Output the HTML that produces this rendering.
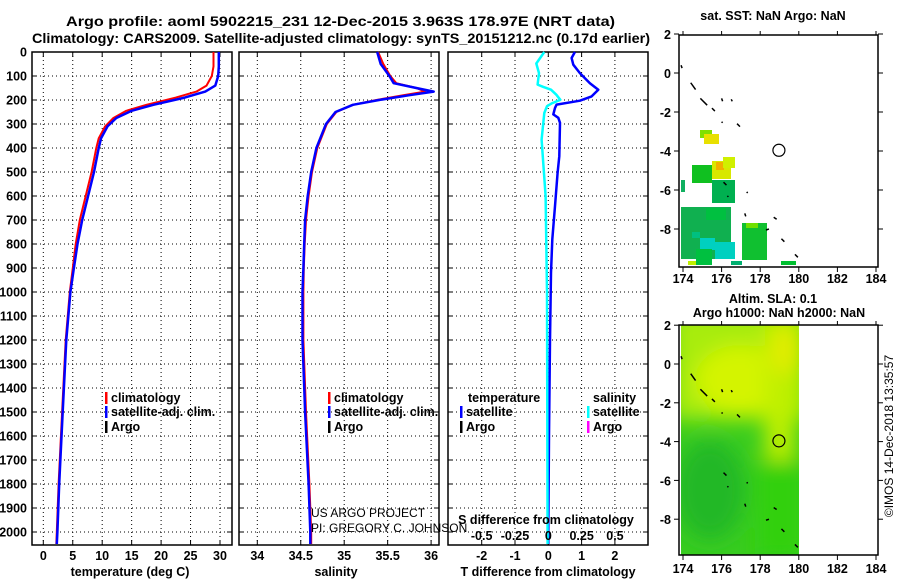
<!DOCTYPE html>
<html><head><meta charset="utf-8"><style>
html,body{margin:0;padding:0;background:#fff;width:900px;height:580px;overflow:hidden}
svg text{font-family:"Liberation Sans",Arial,sans-serif}
.b{font-weight:bold;font-size:12.5px}
.tt{font-weight:bold;font-size:14px}
</style></head><body>
<svg id="c" width="900" height="580" viewBox="0 0 900 580" xmlns="http://www.w3.org/2000/svg">
<g id="g"></g>
</svg>
<script>
// ---- data ----
const depthTicks=[0,100,200,300,400,500,600,700,800,900,1000,1100,1200,1300,1400,1500,1600,1700,1800,1900,2000];
const tempTicks=[0,5,10,15,20,25,30];
const salTicks=[34,34.5,35,35.5,36];
const salTickLabels=["34","34.5","35","35.5","36"];
const tdiffTicks=[-2,-1,0,1,2];
const sdiffTicks=[-0.5,-0.25,0,0.25,0.5];
const sdiffTickLabels=["-0.5","-0.25","0","0.25","0.5"];

const redTDepth=[0,60,100,140,165,190,220,245,275,310,360,400,500,600,700,800,900,1000,1200,1500,1800,2000,2050];
const redTemp=[28.9,28.9,28.6,27.7,26.0,22.5,17.5,14.1,11.9,10.5,9.4,9.0,8.2,7.2,6.2,5.5,5.0,4.5,3.8,3.2,2.6,2.3,2.2];
const blueTDepth=[0,60,100,140,165,190,220,245,275,310,360,400,500,600,700,800,900,1000,1200,1500,1800,2000,2050];
const blueTemp=[29.8,29.8,29.7,29.2,27.5,24.0,18.7,15.0,12.4,10.9,9.8,9.4,8.6,7.6,6.6,5.8,5.2,4.6,3.9,3.3,2.7,2.4,2.3];

const salDepth=[0,50,100,130,150,165,180,200,220,250,300,400,500,600,700,800,900,1000,1200,1500,1800,2000,2050];
const redSal=[35.39,35.45,35.53,35.60,35.83,35.93,35.68,35.37,35.10,34.91,34.80,34.69,34.63,34.59,34.56,34.545,34.535,34.53,34.53,34.56,34.60,34.62,34.62];
const blueSal=[35.38,35.42,35.52,35.57,35.83,36.03,35.75,35.40,35.10,34.90,34.79,34.68,34.62,34.58,34.55,34.54,34.53,34.52,34.52,34.55,34.59,34.61,34.61];

const tdiffDepth=[0,25,53,88,130,157,185,203,219,233,260,274,295,434,503,642,781,920,1200,1600,2000,2050];
const tdiff=[0.8,0.7,0.75,0.95,1.25,1.5,1.3,0.95,0.25,0.2,0.15,0.3,0.35,0.33,0.28,0.2,0.12,0.08,0.05,0.02,0.0,0.0];
const sdiffDepth=[0,48,88,136,145,157,178,199,213,226,254,365,600,1000,2050];
const sdiff=[-0.03,-0.09,-0.07,-0.08,-0.04,0.02,0.06,0.09,0.03,-0.01,-0.03,-0.05,-0.02,-0.01,-0.005];

const latTicks=[2,0,-2,-4,-6,-8];
const lonTicks=[174,176,178,180,182,184];

// ---- helpers ----
const NS="http://www.w3.org/2000/svg";
const G=document.getElementById('g');
function mk(tag,attrs,parent){const e=document.createElementNS(NS,tag);for(const k in attrs)e.setAttribute(k,attrs[k]);(parent||G).appendChild(e);return e;}
function txt(x,y,s,cls,anchor,parent){const t=mk('text',{x:x,y:y,'text-anchor':anchor||'start'},parent);if(cls)t.setAttribute('class',cls);t.textContent=s;return t;}

const Y0=52,PY=0.24,YB=545;
const yD=d=>Y0+d*PY;
const xT=t=>43.3+t*5.89;
const xS=s=>257.3+(s-34)*86.9;
const xTD=t=>548.3+t*33.3;
const xSD=s=>548.3+s*133.3;

// titles
let t;
t=txt(66,26,"Argo profile: aoml 5902215_231 12-Dec-2015 3.963S 178.97E (NRT data)","tt","start");
t.setAttribute('textLength','549');t.setAttribute('lengthAdjust','spacingAndGlyphs');


t=txt(32,43,"Climatology: CARS2009. Satellite-adjusted climatology: synTS_20151212.nc (0.17d earlier)","tt","start");
t.setAttribute('textLength','618');t.setAttribute('lengthAdjust','spacingAndGlyphs');



function panel(name,x0,x1,vx){
  const p=mk('g',{});
  
  
  depthTicks.forEach(d=>{mk('line',{x1:x0,x2:x1,y1:yD(d),y2:yD(d),stroke:'#000','stroke-width':1,'stroke-dasharray':'1,3'},p);
    mk('line',{x1:x0,x2:x0+5,y1:yD(d),y2:yD(d),stroke:'#000'},p);mk('line',{x1:x1-5,x2:x1,y1:yD(d),y2:yD(d),stroke:'#000'},p);});
  vx.forEach(x=>{mk('line',{x1:x,x2:x,y1:Y0,y2:YB,stroke:'#000','stroke-dasharray':'1,3'},p);
    mk('line',{x1:x,x2:x,y1:YB,y2:YB-5,stroke:'#000'},p);mk('line',{x1:x,x2:x,y1:Y0,y2:Y0+5,stroke:'#000'},p);});
  mk('rect',{x:x0,y:Y0,width:x1-x0,height:YB-Y0,fill:'none',stroke:'#000','stroke-width':1.5},p);
  return p;
}
function line(p,name,xs,ds,fx,color,w){
  const pts=xs.map((v,i)=>fx(v).toFixed(1)+','+yD(ds[i]).toFixed(1)).join(' ');
  const l=mk('polyline',{points:pts,fill:'none',stroke:color,'stroke-width':w,'stroke-linejoin':'round'},p);
  
  
}

// depth labels
const yl=mk('g',{});


depthTicks.forEach(d=>txt(27,yD(d)+4.5,String(d),'b','end',yl));

// panel 1
const p1=panel('temperature-panel',32,232,tempTicks.map(xT));
line(p1,'temp-climatology-line',redTemp,redTDepth,xT,'#f00',2);
line(p1,'temp-satellite-line',blueTemp,blueTDepth,xT,'#00f',2.5);
tempTicks.forEach(v=>txt(xT(v),560,String(v),'b','middle',p1));
t=txt(130,576,"temperature (deg C)","b","middle");



// panel 2
const p2=panel('salinity-panel',239,439,salTicks.map(xS));
line(p2,'sal-climatology-line',redSal,salDepth,xS,'#f00',2);
line(p2,'sal-satellite-line',blueSal,salDepth,xS,'#00f',2.5);
salTicks.forEach((v,i)=>txt(xS(v),560,salTickLabels[i],'b','middle',p2));
t=txt(336,576,"salinity","b","middle");



// panel 3
const p3=panel('difference-panel',448,648,tdiffTicks.map(xTD));
line(p3,'temp-diff-line',tdiff,tdiffDepth,xTD,'#00f',2.5);
line(p3,'sal-diff-line',sdiff,sdiffDepth,xSD,'#0ff',2.5);
tdiffTicks.forEach(v=>txt(xTD(v),560,String(v),'b','middle',p3));
sdiffTicks.forEach((v,i)=>txt(xSD(v),540,sdiffTickLabels[i],'b','middle',p3));
t=txt(546,524,"S difference from climatology","b","middle");


t=txt(548,576,"T difference from climatology","b","middle");



// legends
function leg(name,x,y,color,label){
  const g=mk('g',{});
  
  
  if(color)mk('rect',{x:x,y:y-10,width:2.5,height:12,fill:color},g);
  txt(x+6,y,label,'b','start',g);
}
leg('legend-temp-climatology',105,402,'#f00','climatology');
leg('legend-temp-satellite',105,416,'#00f','satellite-adj. clim.');
leg('legend-temp-argo',105,431,'#000','Argo');
leg('legend-sal-climatology',328,402,'#f00','climatology');
leg('legend-sal-satellite',328,416,'#00f','satellite-adj. clim.');
leg('legend-sal-argo',328,431,'#000','Argo');
leg('legend-diff-temp-title',462,402,null,'temperature');
leg('legend-diff-temp-satellite',460,416,'#00f','satellite');
leg('legend-diff-temp-argo',460,431,'#000','Argo');
leg('legend-diff-sal-title',587,402,null,'salinity');
leg('legend-diff-sal-satellite',587,416,'#0ff','satellite');
leg('legend-diff-sal-argo',587,431,'#f0f','Argo');

t=txt(311,517,"US ARGO PROJECT",null,"start");t.setAttribute('font-size','12');


t=txt(311,532,"PI: GREGORY C. JOHNSON",null,"start");t.setAttribute('font-size','12');



// ---- maps ----
function mapFrame(name){
  const g=mk('g',{});
  
  
  return g;
}
const lonX=lon=>683+(lon-174)*19.3;
function frame(g,top,bottom,latY,lblY){
  mk('rect',{x:679,y:top,width:199,height:bottom-top,fill:'none',stroke:'#000','stroke-width':1.5},g);
  latTicks.forEach(l=>{const y=latY(l);mk('line',{x1:674,x2:679,y1:y,y2:y,stroke:'#000'},g);mk('line',{x1:878,x2:883,y1:y,y2:y,stroke:'#000'},g);txt(671,y+5,String(l),'b','end',g);});
  lonTicks.forEach(l=>{const x=lonX(l);mk('line',{x1:x,x2:x,y1:bottom,y2:bottom+5,stroke:'#000'},g);mk('line',{x1:x,x2:x,y1:top,y2:top-4,stroke:'#000'},g);txt(x,lblY,String(l),'b','middle',g);});
}
function coast(g,latY){
  [[174.4,-0.5,174.6,-0.8],[174.9,-1.3,175.2,-1.6],[176,-1.3,176,-1.4],[176.5,-1.35,176.5,-1.4],[175.5,-1.8,175.6,-1.9],[176,-2.5,176,-2.5],[176.8,-2.6,176.9,-2.7],[176.1,-5.6,176.2,-5.7],[176.3,-6.3,176.3,-6.3],[177.3,-6.1,177.3,-6.1],[177.2,-7.2,177.2,-7.3],[178.7,-7.4,178.8,-7.45],[178.3,-8.05,178.4,-7.95],[179.1,-8.5,179.2,-8.6],[179.8,-9.3,179.9,-9.4],[173.9,0.4,173.9,0.3]].forEach(c=>{
    mk('line',{x1:lonX(c[0]),y1:latY(c[1]),x2:lonX(c[2])+1,y2:latY(c[3])+1,stroke:'#000','stroke-width':1.5},g);});
}

// SST map
const m1=mapFrame('sst-map');
const lat1=l=>73-l*19.5;
mk('rect',{x:679,y:35,width:199,height:232,fill:'#fff'},m1);
const sstCells=[[700,130,12,8,'#80e000'],[704,134,15,10,'#e8e000'],[692,165,20,18,'#10c020'],[712,161,19,18,'#d8e800'],[716,162,8,8,'#f0b000'],[723,157,12,11,'#d0f000'],[681,180,4,12,'#10b060'],[712,180,23,23,'#00b050'],[681,207,50,52,'#10b050'],[700,238,15,12,'#00d0c0'],[715,242,20,17,'#00d0c0'],[696,249,16,16,'#00c040'],[742,223,25,37,'#10c030'],[746,223,12,5,'#70e000'],[781,261,15,4,'#00c030'],[688,261,8,4,'#c0f000'],[731,261,11,4,'#00b070'],[706,208,20,12,'#00c040'],[692,232,8,6,'#00c080']];
sstCells.forEach(c=>mk('rect',{x:c[0],y:c[1],width:c[2],height:c[3],fill:c[4]},m1));
coast(m1,lat1);
mk('circle',{cx:lonX(178.97),cy:lat1(-3.963),r:6,fill:'none',stroke:'#000','stroke-width':1.2},m1);
frame(m1,35,267,lat1,283);
txt(773,20,"sat. SST: NaN Argo: NaN","b","middle",m1);

// SLA map
const m2=mapFrame('sla-map');
const lat2=l=>364-l*19.4;
mk('defs',{},m2).innerHTML='<filter id="bl" x="-50%" y="-50%" width="200%" height="200%"><feGaussianBlur stdDeviation="10"/></filter><clipPath id="cp"><rect x="681" y="325" width="118" height="230"/></clipPath>';
const sg=mk('g',{'clip-path':'url(#cp)'},m2);
mk('rect',{x:681,y:325,width:118,height:230,fill:'#38cc20'},sg);
const bg=mk('g',{filter:'url(#bl)'},sg);
mk('rect',{x:670,y:310,width:140,height:110,fill:'#a8ec10'},bg);
mk('ellipse',{cx:740,cy:380,rx:45,ry:35,fill:'#d4f400'},bg);
mk('rect',{x:765,y:320,width:30,height:170,fill:'#c0f000'},bg);
mk('ellipse',{cx:785,cy:350,rx:14,ry:25,fill:'#e4ec00'},bg);
mk('ellipse',{cx:710,cy:490,rx:35,ry:50,fill:'#20b828'},bg);
mk('rect',{x:755,y:460,width:50,height:100,fill:'#30d010'},bg);
coast(m2,lat2);
mk('circle',{cx:lonX(178.97),cy:lat2(-3.963),r:6,fill:'none',stroke:'#000','stroke-width':1.2},m2);
frame(m2,325,555,lat2,573);
txt(773,303,"Altim. SLA: 0.1","b","middle",m2);
txt(779,317,"Argo h1000: NaN h2000: NaN","b","middle",m2);

t=mk('text',{x:0,y:0,transform:'translate(893,436) rotate(-90)','text-anchor':'middle','font-size':'12'});
t.textContent="©IMOS 14-Dec-2018 13:35:57";


</script>
</body></html>
